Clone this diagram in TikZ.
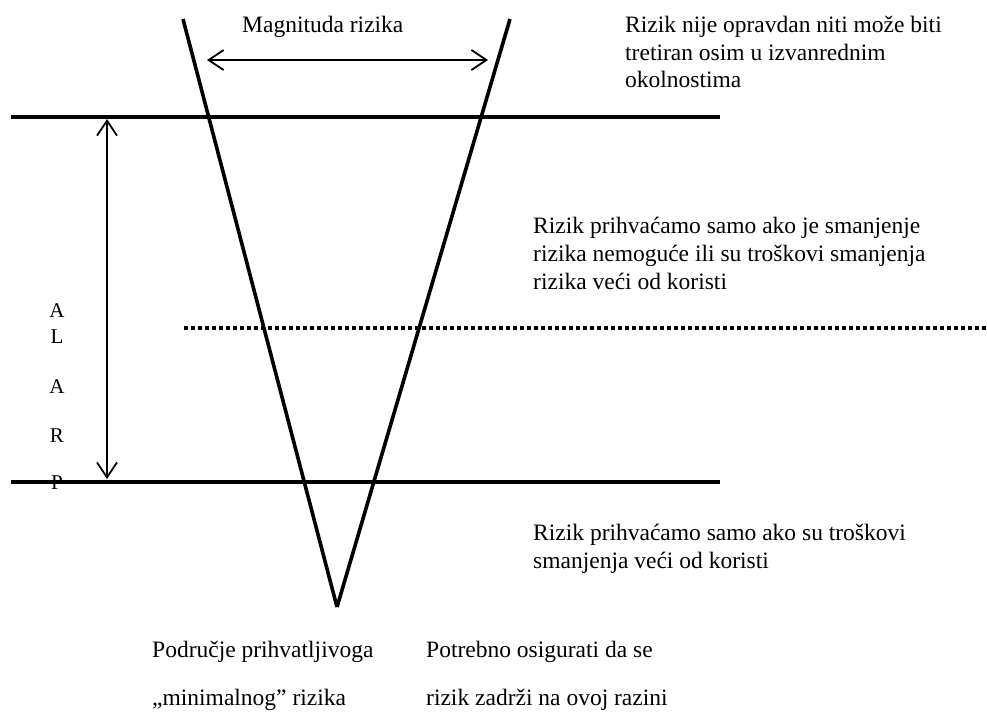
\documentclass[tikz,border=0pt]{standalone}
\usepackage{fontspec}
\setmainfont{Liberation Serif}
\usetikzlibrary{arrows.meta}
\begin{document}
\begin{tikzpicture}[x=1pt,y=-1pt,
  thickline/.style={line width=3.6pt},
  dotline/.style={line width=3.2pt, dash pattern=on 3.5pt off 3.5pt},
  arrowline/.style={line width=1.8pt,
    {Straight Barb[length=15pt,width=20pt,line width=1.8pt]}-{Straight Barb[length=15pt,width=20pt,line width=1.8pt]}},
  txt/.style={anchor=base west, inner sep=0pt, font=\fontsize{23.5}{27.5}\selectfont},
  letter/.style={anchor=base, inner sep=0pt, font=\fontsize{21}{25}\selectfont}
]
\useasboundingbox (0,0) rectangle (987,713);
% coordinates
\coordinate (vL) at (183,19);
\coordinate (vR) at (510,19);
\coordinate (vB) at (337,607);
\coordinate (h1a) at (11,117);
\coordinate (h1b) at (720,117);
\coordinate (h2a) at (11,482);
\coordinate (h2b) at (720,482);
\coordinate (da) at (184,328);
\coordinate (db) at (987,328);
\coordinate (m1) at (207,60);
\coordinate (m2) at (488,60);
\coordinate (a1) at (107,119);
\coordinate (a2) at (107,479);
% lines
\draw[thickline] (vL) -- (vB);
\draw[thickline] (vR) -- (vB);
\draw[thickline] (h1a) -- (h1b);
\draw[thickline] (h2a) -- (h2b);
\draw[dotline] (da) -- (db);
\draw[arrowline] (m1) -- (m2);
\draw[arrowline] (a1) -- (a2);
% texts
\node[txt] (mag) at (242,32) {Magnituda rizika};
\node[txt] (t1) at (625,32) {Rizik nije opravdan niti može biti};
\node[txt] (t2) at (625,60) {tretiran osim u izvanrednim};
\node[txt] (t3) at (625,87) {okolnostima};
\node[txt] (m1t) at (533,233) {Rizik prihvaćamo samo ako je smanjenje};
\node[txt] (m2t) at (533,261) {rizika nemoguće ili su troškovi smanjenja};
\node[txt] (m3t) at (533,289) {rizika veći od koristi};
\node[txt] (b1t) at (533,540) {Rizik prihvaćamo samo ako su troškovi};
\node[txt] (b2t) at (533,568) {smanjenja veći od koristi};
\node[txt] (p1) at (152,657) {Područje prihvatljivoga};
\node[txt] (p2) at (152,705) {„minimalnog” rizika};
\node[txt] (q1) at (426,657) {Potrebno osigurati da se};
\node[txt] (q2) at (426,705) {rizik zadrži na ovoj razini};
\node[letter] (LA1) at (57,317) {A};
\node[letter] (LL) at (57,343) {L};
\node[letter] (LA2) at (57,393) {A};
\node[letter] (LR) at (57,442) {R};
\node[letter] (LP) at (57,489) {P};
\end{tikzpicture}
\end{document}
